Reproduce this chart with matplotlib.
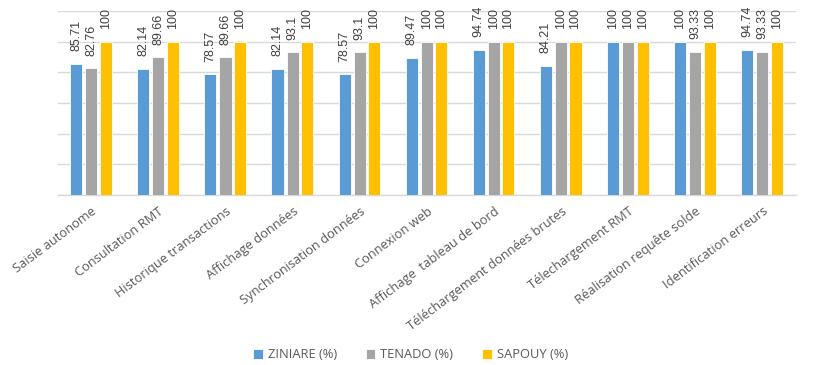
import matplotlib
matplotlib.use("Agg")
import matplotlib.pyplot as plt
import numpy as np

categories = ["Saisie autonome", "Consultation RMT", "Historique transactions",
              "Affichage données", "Synchronisation données", "Connexion web",
              "Affichage  tableau de bord", "Téléchargement données brutes",
              "Télechargement RMT", "Réalisation requête solde", "Identification erreurs"]
series_names = ["ZINIARE (%)", "TENADO (%)", "SAPOUY (%)"]
ziniare = [85.71, 82.14, 78.57, 82.14, 78.57, 89.47, 94.74, 84.21, 100, 100, 94.74]
tenado = [82.76, 89.66, 89.66, 93.1, 93.1, 100, 100, 100, 100, 93.33, 93.33]
sapouy = [100, 100, 100, 100, 100, 100, 100, 100, 100, 100, 100]
colors = ["#5B9BD5", "#A5A5A5", "#FFC000"]

fig = plt.figure(figsize=(8.13, 3.65), dpi=100)
ax = fig.add_axes([0.071, 0.466, 0.908, 0.504])

x = np.arange(len(categories))
width = 0.18
offsets = [-0.225, 0.0, 0.215]
for vals, name, col, off in zip([ziniare, tenado, sapouy], series_names, colors, offsets):
    bars = ax.bar(x + off, vals, width, color=col, label=name, zorder=3,
                  edgecolor="white", linewidth=0.6)
    for b, v in zip(bars, vals):
        ax.annotate(f"{v:g}", (b.get_x() + b.get_width() / 2, v),
                    xytext=(0, 9), textcoords="offset points",
                    rotation=90, ha="center", va="bottom",
                    fontsize=9, color="#404040", family="Liberation Sans")

ax.set_ylim(0, 120)
ax.set_xlim(-0.5, len(categories) - 0.5)
ax.set_yticks(np.arange(0, 121, 20))
ax.yaxis.grid(True, color="#D9D9D9", linewidth=1, zorder=0)
ax.tick_params(axis="y", left=False, labelleft=False)
ax.tick_params(axis="x", length=0, pad=7)
ax.set_xticks(x)
ax.set_xticklabels(categories, rotation=37, ha="right", rotation_mode="anchor",
                   fontsize=9.3, color="#595959", family="Open Sans")
for s in ["top", "right", "left"]:
    ax.spines[s].set_visible(False)
ax.spines["bottom"].set_color("#D9D9D9")
ax.spines["bottom"].set_linewidth(1)

fig.legend(loc="lower center", bbox_to_anchor=(0.505, -0.022), ncol=3, frameon=False,
           handlelength=0.75, handleheight=0.75, handletextpad=0.4, columnspacing=2.2,
           prop={"family": "Open Sans", "size": 9.3}, labelcolor="#595959")

fig.savefig("out.png", dpi=100)
